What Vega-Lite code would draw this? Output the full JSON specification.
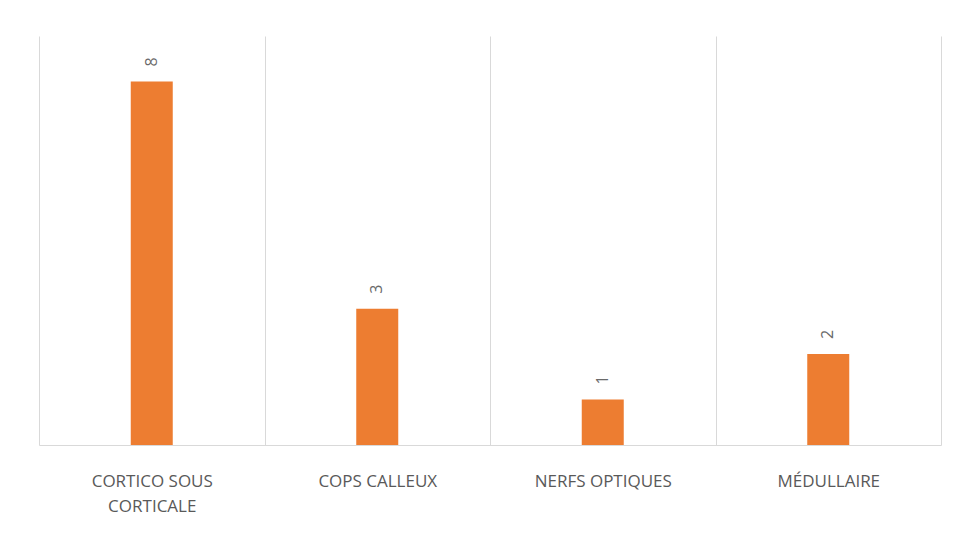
{
  "$schema": "https://vega.github.io/schema/vega-lite/v6.json",
  "width": 902,
  "height": 409,
  "autosize": {"type": "none"},
  "padding": {"left": 39, "top": 36, "right": 17, "bottom": 99},
  "background": "white",
  "config": {
    "view": {"stroke": null},
    "font": "Open Sans"
  },
  "data": {
    "values": [
      {"site": "CORTICO SOUS CORTICALE", "n": 8},
      {"site": "COPS CALLEUX", "n": 3},
      {"site": "NERFS OPTIQUES", "n": 1},
      {"site": "MÉDULLAIRE", "n": 2}
    ]
  },
  "encoding": {
    "x": {
      "field": "site",
      "type": "nominal",
      "sort": null,
      "scale": {"paddingInner": 0, "paddingOuter": 0},
      "axis": {
        "title": null,
        "labelAngle": 0,
        "labelFont": "Open Sans",
        "labelFontSize": 17,
        "labelColor": "#595959",
        "labelPadding": 28,
        "labelLineHeight": 25,
        "labelBaseline": "top",
        "labelExpr": "datum.label == 'CORTICO SOUS CORTICALE' ? ['CORTICO SOUS', 'CORTICALE'] : datum.label",
        "ticks": false,
        "tickBand": "extent",
        "grid": true,
        "gridColor": "#d9d9d9",
        "gridWidth": 1,
        "domainColor": "#d9d9d9",
        "domainWidth": 1
      }
    },
    "y": {
      "field": "n",
      "type": "quantitative",
      "scale": {"domain": [0, 9]},
      "axis": null
    }
  },
  "layer": [
    {
      "mark": {"type": "bar", "color": "#ED7D31", "width": 42}
    },
    {
      "mark": {
        "type": "text",
        "angle": -90,
        "align": "left",
        "baseline": "middle",
        "dx": 15,
        "font": "Open Sans",
        "fontSize": 16,
        "color": "#6a6a6a"
      },
      "encoding": {"text": {"field": "n", "type": "quantitative"}}
    }
  ]
}
